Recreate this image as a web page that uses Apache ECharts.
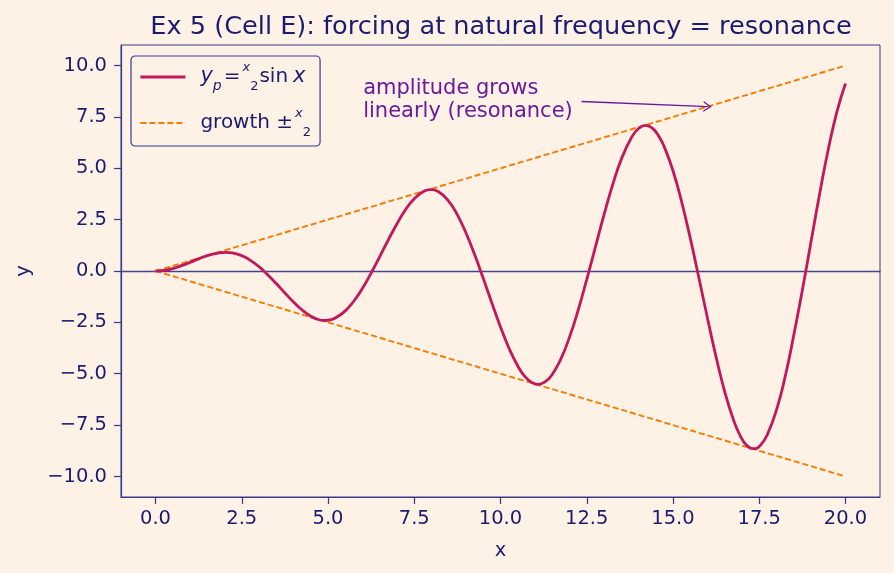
<!DOCTYPE html>
<html>
<head>
<meta charset="utf-8">
<script src="https://cdn.jsdelivr.net/npm/echarts@6/dist/echarts.min.js"></script>
<style>
  html, body { margin: 0; padding: 0; background: #fef1e6; }
  #chart { width: 894px; height: 573px; }
</style>
</head>
<body>
<div id="chart"></div>
<script>
// y_p = (x/2) sin x (roughly every 0.25, closer round the turning points)
var xValues = [0, 0.25, 0.5, 0.75, 1, 1.25, 1.5, 1.83, 2.03, 2.23, 2.5, 2.75, 3, 3.25, 3.5, 3.75, 4, 4.25, 4.5, 4.71,
  4.91, 5.11, 5.25, 5.5, 5.75, 6, 6.25, 6.5, 6.75, 7, 7.25, 7.5, 7.78, 7.98, 8.18, 8.5, 8.75, 9, 9.25, 9.5,
  9.75, 10, 10.25, 10.5, 10.69, 10.89, 11.09, 11.29, 11.49, 11.75, 12, 12.25, 12.5, 12.75, 13, 13.25, 13.5, 13.81, 14.01, 14.21,
  14.41, 14.61, 14.75, 15, 15.25, 15.5, 15.75, 16, 16.25, 16.5, 16.75, 16.94, 17.14, 17.34, 17.54, 17.74, 18, 18.25, 18.5, 18.75,
  19, 19.25, 19.5, 19.75, 20];
var yValues = [0, 0.03, 0.12, 0.26, 0.42, 0.59, 0.75, 0.88, 0.91, 0.88, 0.75, 0.52, 0.21, -0.18, -0.61, -1.07, -1.51, -1.90, -2.20, -2.36,
  -2.41, -2.36, -2.25, -1.94, -1.46, -0.84, -0.10, 0.70, 1.52, 2.30, 2.99, 3.52, 3.88, 3.96, 3.88, 3.39, 2.73, 1.85, 0.80, -0.36,
  -1.56, -2.72, -3.77, -4.62, -5.10, -5.41, -5.52, -5.40, -5.06, -4.28, -3.22, -1.91, -0.41, 1.16, 2.73, 4.19, 5.43, 6.54, 6.95, 7.09,
  6.94, 6.50, 6.03, 4.88, 3.37, 1.60, -0.33, -2.30, -4.19, -5.88, -7.23, -7.99, -8.49, -8.65, -8.47, -7.94, -6.76, -5.15, -3.13, -0.93,
  1.42, 3.75, 5.91, 7.74, 9.13];
var growthX = [0, 20];
var growthUpper = [0, 10];
var growthLower = [0, -10];
var xTicks = [0, 2.5, 5, 7.5, 10, 12.5, 15, 17.5, 20];
var yTicks = [-10, -7.5, -5, -2.5, 0, 2.5, 5, 7.5, 10];

var navy = '#1c1c6e';
var spine = '#3a3a8c';
var font = 'DejaVu Sans';

function pairs(xs, ys) {
  return xs.map(function (x, i) { return [x, ys[i]]; });
}
function fmt(v) {
  var s = Math.abs(v).toFixed(1);
  return v < 0 ? '\u2212' + s : s;
}

var chart = echarts.init(document.getElementById('chart'));
chart.setOption({
  backgroundColor: '#fef1e6',
  animation: false,
  textStyle: { fontFamily: font },
  title: {
    text: 'Ex 5 (Cell E): forcing at natural frequency = resonance',
    left: 496, top: 9, textAlign: 'center',
    textStyle: { color: navy, fontSize: 25.6, fontWeight: 'normal', fontFamily: font }
  },
  grid: { left: 121, right: 14, top: 45, bottom: 76, show: true, borderColor: spine, borderWidth: 1, backgroundColor: 'transparent' },
  legend: {
    left: 131, top: 56, orient: 'vertical',
    backgroundColor: '#fef1e6', borderColor: spine, borderWidth: 1.2, borderRadius: 4,
    padding: [5, 8, 7, 8], itemGap: 14, itemWidth: 45, itemHeight: 14,
    itemStyle: { opacity: 0 },
    data: [
      { name: 'yp', lineStyle: { width: 2.8 } },
      { name: 'growth', lineStyle: { width: 1.9 } }
    ],
    formatter: function (name) {
      if (name === 'yp') return '{sp|}{i|y}{sub|p}{n|=}{num|x}{den|2}{n|sin}{s|}{i|x}';
      return '{sp|}{n|growth \u00b1}{num|x}{den|2}';
    },
    textStyle: {
      color: navy, fontFamily: font, fontSize: 20, lineHeight: 32,
      rich: {
        sp: { width: 10 },
        s: { width: 5 },
        i: { fontStyle: 'italic', fontSize: 21, color: navy, fontFamily: font, lineHeight: 32 },
        sub: { fontStyle: 'italic', fontSize: 14, color: navy, fontFamily: font, verticalAlign: 'bottom', lineHeight: 32, padding: [0, 2, 0, 0] },
        n: { fontSize: 20, color: navy, fontFamily: font, lineHeight: 32 },
        num: { fontStyle: 'italic', fontSize: 13, color: navy, fontFamily: font, verticalAlign: 'top', lineHeight: 32, padding: [0, 0, 0, 2] },
        den: { fontSize: 13, color: navy, fontFamily: font, verticalAlign: 'bottom', lineHeight: 32, padding: [0, 1, 0, 0] }
      }
    }
  },
  xAxis: [
    {
      type: 'value', min: -1, max: 21,
      name: 'x', nameLocation: 'middle', nameGap: 44,
      nameTextStyle: { color: navy, fontSize: 19.5, fontFamily: font },
      splitLine: { show: false },
      axisLine: { show: true, onZero: false, lineStyle: { color: spine, width: 1.2 } },
      axisTick: { show: true, length: 7, customValues: xTicks, lineStyle: { color: spine, width: 1.2 } },
      axisLabel: { color: navy, fontSize: 19.5, margin: 12, customValues: xTicks, formatter: fmt, fontFamily: font }
    },
    {
      // horizontal reference line at y = 0
      type: 'value', min: -1, max: 21, position: 'bottom',
      splitLine: { show: false },
      axisLine: { show: true, onZero: true, lineStyle: { color: '#45458d', width: 1.3 } },
      axisTick: { show: false },
      axisLabel: { show: false }
    }
  ],
  yAxis: {
    type: 'value', min: -11, max: 11,
    name: 'y', nameLocation: 'middle', nameGap: 87,
    nameTextStyle: { color: navy, fontSize: 19.5, fontFamily: font },
    splitLine: { show: false },
    axisLine: { show: true, onZero: false, lineStyle: { color: spine, width: 1.2 } },
    axisTick: { show: true, length: 7, customValues: yTicks, lineStyle: { color: spine, width: 1.2 } },
    axisLabel: { color: navy, fontSize: 19.5, margin: 14, customValues: yTicks, formatter: fmt, fontFamily: font }
  },
  series: [
    {
      name: 'yp', type: 'line', data: pairs(xValues, yValues),
      smooth: 0.5, symbol: 'none', z: 5,
      lineStyle: { color: '#c2185b', width: 2.8 }, itemStyle: { color: '#c2185b' }
    },
    {
      name: 'growth', type: 'line', data: pairs(growthX, growthUpper),
      symbol: 'none', z: 4,
      lineStyle: { color: '#f57c00', width: 1.9, type: [6, 3] }, itemStyle: { color: '#f57c00' },
      markLine: {
        silent: true,
        symbol: ['none', 'path://M0,10 L5,0 L10,10 L8.6,10 L5,2.8 L1.4,10 Z'],
        symbolSize: [11, 8],
        label: { show: false },
        lineStyle: { color: '#6a1b9a', width: 1.3, type: 'solid' },
        itemStyle: { color: '#6a1b9a' },
        data: [[{ coord: [12.35, 8.25] }, { coord: [16, 8] }]]
      },
      markPoint: {
        silent: true, symbol: 'circle', symbolSize: 0,
        data: [{ coord: [6.02, 8.34] }],
        label: {
          show: true, position: 'right', distance: 0,
          formatter: 'amplitude grows\nlinearly (resonance)',
          color: '#6a1b9a', fontSize: 21, lineHeight: 23, fontFamily: font, align: 'left'
        }
      }
    },
    {
      name: 'growth', type: 'line', data: pairs(growthX, growthLower),
      symbol: 'none', z: 4,
      lineStyle: { color: '#f57c00', width: 1.9, type: [6, 3] }, itemStyle: { color: '#f57c00' }
    }
  ]
});
</script>
</body>
</html>
